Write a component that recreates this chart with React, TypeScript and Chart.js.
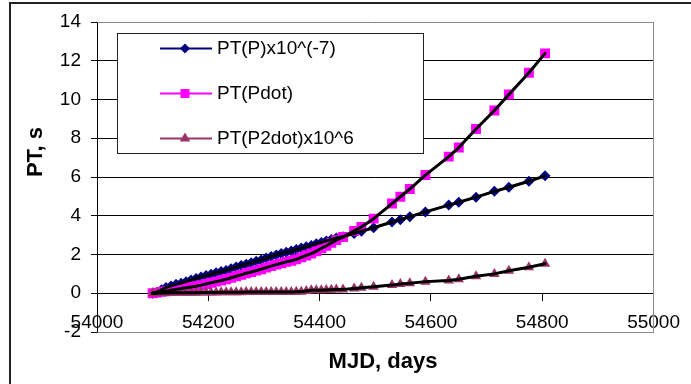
import React, { useEffect, useRef } from "react";
import { Chart, registerables } from "chart.js";

Chart.register(...registerables);

// ---- Data ----
const MJD = [
  54100, 54108, 54116, 54124, 54133, 54142, 54151, 54160, 54169, 54178,
  54187, 54196, 54205, 54214, 54223, 54232, 54241, 54250, 54259, 54268,
  54277, 54286, 54295, 54304, 54313, 54322, 54331, 54340, 54349, 54358,
  54367, 54376, 54385, 54394, 54403, 54412, 54421, 54430, 54442, 54462,
  54475, 54497, 54530, 54545, 54562, 54590, 54632, 54650, 54681, 54714,
  54740, 54776, 54805,
];

const PT_P = [
  0.0, 0.05, 0.18, 0.3, 0.38, 0.46, 0.52, 0.6, 0.68, 0.76,
  0.84, 0.92, 0.98, 1.06, 1.12, 1.18, 1.27, 1.36, 1.43, 1.5,
  1.58, 1.65, 1.72, 1.82, 1.9, 1.98, 2.05, 2.12, 2.18, 2.26,
  2.33, 2.4, 2.47, 2.55, 2.62, 2.7, 2.78, 2.85, 2.92, 3.08,
  3.2, 3.38, 3.68, 3.8, 3.95, 4.2, 4.55, 4.7, 4.96, 5.26,
  5.47, 5.78, 6.06,
];

const PT_PDOT = [
  0.0, 0.03, 0.07, 0.1, 0.15, 0.2, 0.25, 0.28, 0.32, 0.36,
  0.42, 0.48, 0.54, 0.6, 0.66, 0.72, 0.8, 0.88, 0.95, 1.03,
  1.1, 1.17, 1.24, 1.32, 1.4, 1.48, 1.55, 1.62, 1.68, 1.75,
  1.85, 1.95, 2.05, 2.17, 2.32, 2.45, 2.6, 2.74, 2.9, 3.22,
  3.42, 3.85, 4.63, 4.98, 5.38, 6.1, 7.05, 7.52, 8.48, 9.43,
  10.26, 11.38, 12.38,
];

const PT_P2DOT = [
  0.0, 0.0, 0.01, 0.01, 0.02, 0.02, 0.02, 0.03, 0.03, 0.03,
  0.04, 0.04, 0.04, 0.04, 0.05, 0.05, 0.05, 0.05, 0.05, 0.06,
  0.06, 0.06, 0.06, 0.06, 0.07, 0.07, 0.07, 0.07, 0.07, 0.08,
  0.08, 0.12, 0.15, 0.15, 0.16, 0.17, 0.18, 0.19, 0.2, 0.25,
  0.28, 0.33, 0.42, 0.48, 0.52, 0.6, 0.66, 0.72, 0.88, 1.0,
  1.16, 1.34, 1.52,
];

const SERIES_LABELS = ["PT(P)x10^(-7)", "PT(Pdot)", "PT(P2dot)x10^6"];
const X_TICKS = [54000, 54200, 54400, 54600, 54800, 55000];
const Y_TICKS = [-2, 0, 2, 4, 6, 8, 10, 12, 14];
const X_TITLE = "MJD, days";
const Y_TITLE = "PT, s";

const FONT = "'Liberation Sans', Arial, sans-serif";
const NAVY = "#000080";
const MAGENTA = "#FF00FF";
const PLUM = "#993366";

const pts = (ys: number[]) => MJD.map((x, i) => ({ x, y: ys[i] }));

function drawMarker(ctx: CanvasRenderingContext2D, style: string, x: number, y: number, color: string) {
  ctx.save();
  ctx.fillStyle = color;
  ctx.beginPath();
  if (style === "rectRot") {
    const r = 5;
    ctx.moveTo(x, y - r);
    ctx.lineTo(x + r, y);
    ctx.lineTo(x, y + r);
    ctx.lineTo(x - r, y);
    ctx.closePath();
  } else if (style === "rect") {
    ctx.rect(x - 4.5, y - 4.5, 9, 9);
  } else {
    const r = 6;
    ctx.moveTo(x, y - r);
    ctx.lineTo(x + r * 0.87, y + r * 0.5);
    ctx.lineTo(x - r * 0.87, y + r * 0.5);
    ctx.closePath();
  }
  ctx.fill();
  ctx.restore();
}

const decorPlugin = {
  id: "decor",
  beforeDraw(chart: any) {
    const ctx = chart.ctx as CanvasRenderingContext2D;
    ctx.save();
    ctx.fillStyle = "#fff";
    ctx.fillRect(0, 0, chart.width, chart.height);
    ctx.strokeStyle = "#222";
    ctx.lineWidth = 2;
    ctx.strokeRect(10, 3, 800, 500);
    ctx.restore();
  },
  beforeDatasetsDraw(chart: any) {
    const ctx = chart.ctx as CanvasRenderingContext2D;
    const a = chart.chartArea;
    const al = (p: number) => Math.round(p - 0.5) + 0.5;
    ctx.save();
    ctx.strokeStyle = "#8c8c8c";
    ctx.lineWidth = 1;
    ctx.beginPath();
    ctx.moveTo(al(a.left), al(a.top));
    ctx.lineTo(al(a.right), al(a.top));
    ctx.lineTo(al(a.right), al(a.bottom));
    ctx.lineTo(al(a.left), al(a.bottom));
    ctx.stroke();
    ctx.restore();
  },
  afterDraw(chart: any) {
    const ctx = chart.ctx as CanvasRenderingContext2D;
    ctx.save();
    // legend box
    ctx.fillStyle = "#fff";
    ctx.fillRect(117.5, 33.5, 306, 120);
    ctx.strokeStyle = "#222";
    ctx.lineWidth = 1;
    ctx.strokeRect(117.5, 33.5, 306, 120);
    const entries = chart.data.datasets.filter((d: any) => d.isSeries);
    entries.sort((p: any, q: any) => p.legendIndex - q.legendIndex);
    entries.forEach((d: any, i: number) => {
      const y = 48 + i * 45;
      ctx.strokeStyle = d.borderColor;
      ctx.lineWidth = 2;
      ctx.beginPath();
      ctx.moveTo(160, y + 0.5);
      ctx.lineTo(212, y + 0.5);
      ctx.stroke();
      drawMarker(ctx, d.pointStyle, 185, y + 0.5, d.pointBackgroundColor);
      ctx.fillStyle = "#000";
      ctx.font = `19px ${FONT}`;
      ctx.textAlign = "left";
      ctx.textBaseline = "middle";
      ctx.fillText(d.label, 217, y + 1);
    });
    // axis titles
    ctx.fillStyle = "#000";
    ctx.font = `bold 22px ${FONT}`;
    ctx.textAlign = "center";
    ctx.textBaseline = "alphabetic";
    ctx.fillText(X_TITLE, 383, 368);
    ctx.translate(41.5, 152);
    ctx.rotate(-Math.PI / 2);
    ctx.fillText(Y_TITLE, 0, 0);
    ctx.restore();
  },
};

export default function App() {
  const ref = useRef<HTMLCanvasElement | null>(null);

  useEffect(() => {
    if (!ref.current) return;
    const series = (label: string, ys: number[], color: string, style: string, radius: number, order: number, legendIndex: number) => ({
      label,
      data: pts(ys),
      showLine: true,
      borderColor: color,
      borderWidth: 2,
      pointStyle: style,
      pointRadius: radius,
      pointBackgroundColor: color,
      pointBorderColor: color,
      pointBorderWidth: 0,
      order,
      isSeries: true,
      legendIndex,
    });
    const fit = (ys: number[]) => ({
      label: "fit",
      data: pts(ys),
      showLine: true,
      borderColor: "#000",
      borderWidth: 3,
      pointRadius: 0,
      borderJoinStyle: "round",
      borderCapStyle: "round",
      order: 0,
    });
    const chart = new Chart(ref.current, {
      type: "scatter",
      data: {
        datasets: [
          fit(PT_P),
          fit(PT_PDOT),
          fit(PT_P2DOT),
          series(SERIES_LABELS[2], PT_P2DOT, PLUM, "triangle", 6, 1, 2),
          series(SERIES_LABELS[1], PT_PDOT, MAGENTA, "rect", 7, 2, 1),
          series(SERIES_LABELS[0], PT_P, NAVY, "rectRot", 5.5, 3, 0),
        ] as any,
      },
      options: {
        responsive: false,
        animation: false,
        events: [],
        layout: { padding: { left: 0, top: 22, right: 27, bottom: 52 } },
        plugins: { legend: { display: false }, tooltip: { enabled: false } },
        scales: {
          x: {
            type: "linear",
            position: { y: 0 } as any,
            min: 54000,
            max: 55000,
            afterBuildTicks: (s: any) => {
              s.ticks = X_TICKS.map((v) => ({ value: v }));
            },
            ticks: {
              font: { size: 19, family: FONT },
              color: "#000",
              padding: 11,
              maxRotation: 0,
              autoSkip: false,
              callback: (v: any) => String(v),
            },
            grid: { drawOnChartArea: false, drawTicks: true, tickLength: 7, color: "#000" },
            border: { color: "#000", width: 1 },
          },
          y: {
            type: "linear",
            min: -2,
            max: 14,
            afterBuildTicks: (s: any) => {
              s.ticks = Y_TICKS.map((v) => ({ value: v }));
            },
            afterFit: (s: any) => {
              s.width = 97;
            },
            ticks: {
              font: { size: 19, family: FONT },
              color: "#000",
              padding: 10,
              callback: (v: any) => String(v),
            },
            grid: { color: "#000", tickLength: 6 },
            border: { color: "#000", width: 1 },
          },
        },
      },
      plugins: [decorPlugin],
    });
    return () => chart.destroy();
  }, []);

  return (
    <div style={{ position: "fixed", left: 0, top: 0, width: 691, height: 384, background: "#fff" }}>
      <canvas ref={ref} width={691} height={384} style={{ display: "block" }} />
    </div>
  );
}
